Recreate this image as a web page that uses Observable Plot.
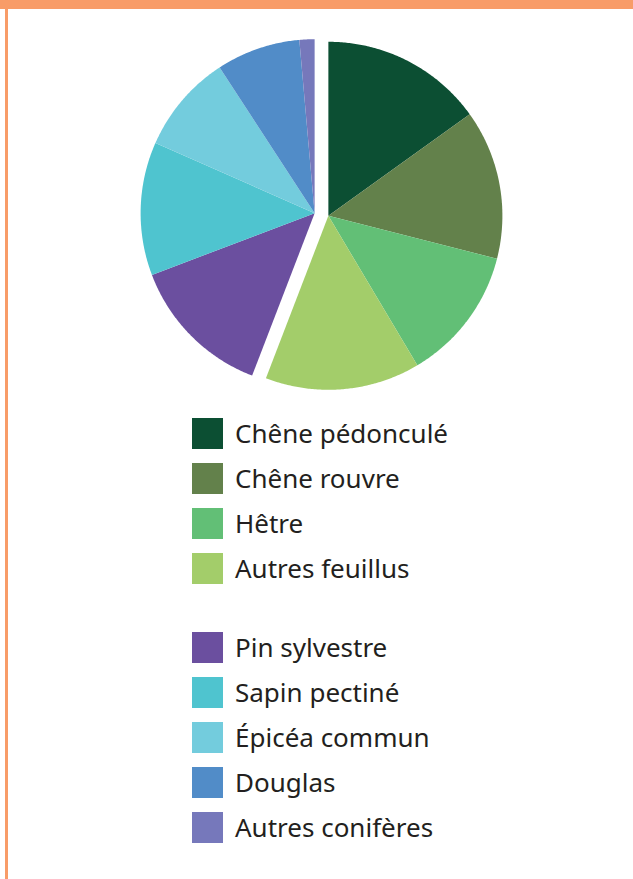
<!DOCTYPE html>
<html><head><meta charset="utf-8">
<script src="https://cdn.jsdelivr.net/npm/d3@7"></script>
<script src="https://cdn.jsdelivr.net/npm/@observablehq/plot@0.6"></script>
<style>
html,body{margin:0;padding:0;background:#fff;}
#frame{position:relative;width:633px;height:879px;overflow:hidden;background:#fff;}
.topbar{position:absolute;left:0;top:0;width:633px;height:9px;background:#F89C68;}
.leftbar{position:absolute;left:5px;top:9px;width:3px;height:870px;background:#F89C68;}
#chart{position:absolute;left:0;top:0;}
.row{position:absolute;left:192px;height:31px;display:flex;align-items:center;font-family:"Noto Sans",sans-serif;font-size:26px;line-height:31px;color:#231f20;white-space:nowrap;}
.sw{width:31px;height:31px;margin-right:12px;flex:none;}
</style></head>
<body><div id="frame"><div class="topbar"></div><div class="leftbar"></div><div id="chart"></div></div>
<script>
const species = ["Chêne pédonculé","Chêne rouvre","Hêtre","Autres feuillus","Pin sylvestre","Sapin pectiné","Épicéa commun","Douglas","Autres conifères"];
const groups = ["feuillus","feuillus","feuillus","feuillus","conifères","conifères","conifères","conifères","conifères"];
const shares = [15.1, 13.9, 12.5, 14.4, 13.4, 12.4, 9.2, 7.8, 1.4];
const colors = ["#0C4F33","#63814B","#62BF76","#A3CD6A","#6B4F9F","#4FC4CF","#73CCDD","#518CC8","#7678BB"];

const W = 633, H = 400, cx = 321, cy = 214, R = 174, explode = 7;
const arcs = d3.pie().sort(null).value(d => d)(shares);
const groupSpan = {};
arcs.forEach((a, i) => {
  const g = groups[i];
  if (!groupSpan[g]) groupSpan[g] = [a.startAngle, a.endAngle];
  groupSpan[g][1] = a.endAngle;
});
const pts = [];
arcs.forEach((a, i) => {
  const [g0, g1] = groupSpan[groups[i]];
  const mid = (g0 + g1) / 2;
  const ox = cx + explode * Math.sin(mid), oy = cy - explode * Math.cos(mid);
  pts.push({species: species[i], x: ox, y: oy});
  const n = Math.max(2, Math.ceil((a.endAngle - a.startAngle) / (Math.PI / 360)));
  for (let k = 0; k <= n; k++) {
    const t = a.startAngle + (a.endAngle - a.startAngle) * k / n;
    pts.push({species: species[i], x: ox + R * Math.sin(t), y: oy - R * Math.cos(t)});
  }
});

const chart = Plot.plot({
  width: W, height: H, margin: 0,
  style: {background: "transparent"},
  x: {domain: [0, W], range: [0, W], axis: null},
  y: {domain: [0, H], range: [0, H], axis: null},
  color: {domain: species, range: colors},
  marks: [
    Plot.line(pts, {x: "x", y: "y", z: "species", fill: "species", stroke: "none", curve: "linear-closed"})
  ]
});
document.getElementById("chart").appendChild(chart);

const color = chart.scale("color");
const frame = document.getElementById("frame");
species.forEach((s, i) => {
  const row = document.createElement("div");
  row.className = "row";
  row.style.top = (418 + i * 45 + (groups[i] === "conifères" ? 34 : 0)) + "px";
  const sw = document.createElement("div");
  sw.className = "sw";
  sw.style.background = color.apply(s);
  const tx = document.createElement("span");
  tx.textContent = s;
  row.appendChild(sw); row.appendChild(tx);
  frame.appendChild(row);
});
</script></body></html>
